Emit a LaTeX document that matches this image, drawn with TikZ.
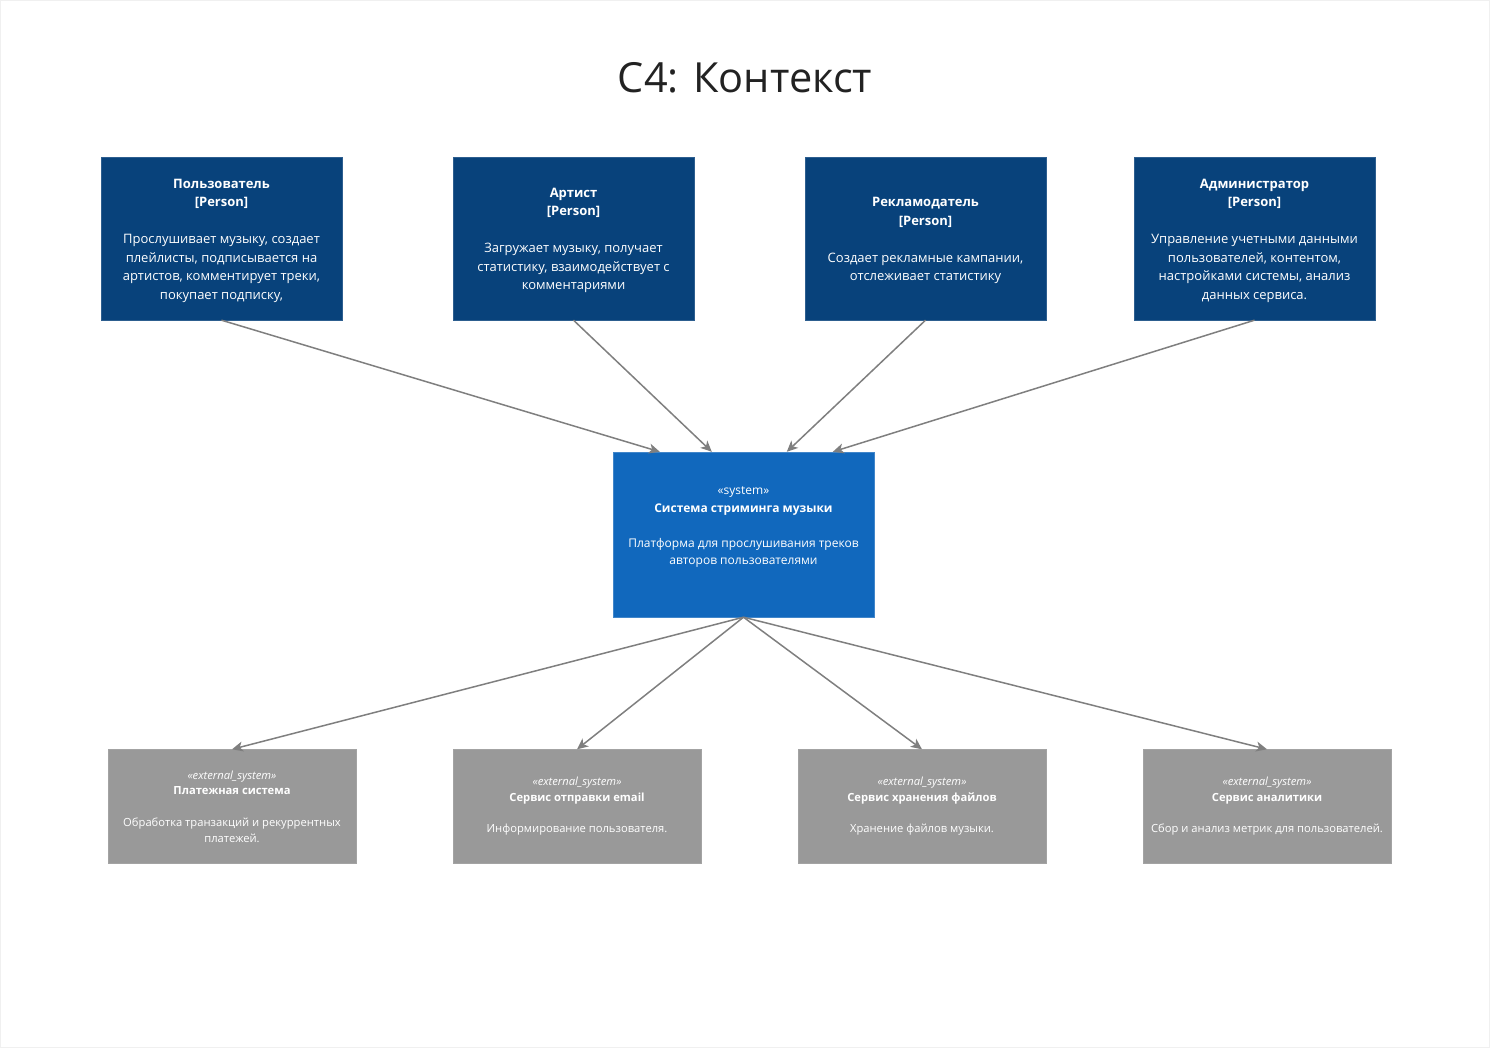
\documentclass[tikz,border=0pt]{standalone}
\usepackage{fontspec}
\setmainfont{Open Sans}
\usetikzlibrary{arrows.meta,calc}
\definecolor{personblue}{HTML}{08427B}
\definecolor{sysblue}{HTML}{1168BD}
\definecolor{extgray}{HTML}{999999}
\definecolor{linegray}{HTML}{7F7F7F}
\definecolor{titlegray}{HTML}{222222}
\tikzset{
  personbox/.style={fill=personblue, draw=personblue!85!white, minimum width=241, minimum height=163, inner sep=0},
  persontext/.style={text=white, align=center, inner sep=0, font=\fontsize{13}{18.5}\selectfont},
  sysbox/.style={fill=sysblue, draw=sysblue!80!white, minimum width=261, minimum height=165, inner sep=0},
  systext/.style={text=white, align=center, inner sep=0,
    font=\fontsize{12}{17.5}\selectfont},
  extbox/.style={fill=extgray, draw=extgray!90!white, text=white,
    minimum width=248, minimum height=114, align=center,
    inner sep=0, font=\fontsize{11.2}{15.7}\selectfont},
  rel/.style={draw=linegray, line width=1.5pt, -{Stealth[length=11pt, width=10pt, inset=3pt]}},
}
\newcommand{\extst}{{\itshape\fontsize{11.2}{15.7}\selectfont «external\_system»}}
\begin{document}
\begin{tikzpicture}[x=1pt, y=-1pt]
\useasboundingbox (0,0) rectangle (1490,1048);
\draw[draw=black!6, line width=1pt] (0.5,0.5) rectangle (1489.5,1047.5);

\node[text=titlegray, font=\fontsize{41.5}{48}\selectfont, inner sep=0] (title) at (745,78) {C4: Контекст};

\node[personbox] (user) at (221.5,238.5) {};
\node[personbox] (artist) at (573.5,238.5) {};
\node[personbox] (adv) at (925.5,238.5) {};
\node[personbox] (admin) at (1254.5,238.5) {};

\node[persontext] (usertxt) at (221.5,240.5) {\textbf{Пользователь}\\\relax\textbf{[Person]}\\~\\Прослушивает музыку, создает\\плейлисты, подписывается на\\артистов, комментирует треки,\\покупает подписку,};
\node[persontext] (artisttxt) at (573.5,240.5) {\textbf{Артист}\\\relax\textbf{[Person]}\\~\\Загружает музыку, получает\\статистику, взаимодействует с\\комментариями};
\node[persontext] (advtxt) at (925.5,240.5) {\textbf{Рекламодатель}\\\relax\textbf{[Person]}\\~\\Создает рекламные кампании,\\отслеживает статистику};
\node[persontext] (admintxt) at (1254.5,240.5) {\textbf{Администратор}\\\relax\textbf{[Person]}\\~\\Управление учетными данными\\пользователей, контентом,\\настройками системы, анализ\\данных сервиса.};

\node[sysbox] (sys) at (743.5,534.5) {};
\node[systext] (systxt) at (743.5,527) {«system»\\\textbf{Система стриминга музыки}\\~\\Платформа для прослушивания треков\\авторов пользователями};

\node[extbox] (pay) at (232,806.5) {\extst\\\textbf{Платежная система}\\~\\Обработка транзакций и рекуррентных\\платежей.};
\node[extbox] (mail) at (577,806.5) {\extst\\\textbf{Сервис отправки email}\\~\\Информирование пользователя.};
\node[extbox] (files) at (922,806.5) {\extst\\\textbf{Сервис хранения файлов}\\~\\Хранение файлов музыки.};
\node[extbox] (stats) at (1267,806.5) {\extst\\\textbf{Сервис аналитики}\\~\\Сбор и анализ метрик для пользователей.};

\coordinate (t1) at ($(sys.north west)+(47,0)$);
\coordinate (t2) at ($(sys.north west)+(99,0)$);
\coordinate (t3) at ($(sys.north west)+(174,0)$);
\coordinate (t4) at ($(sys.north west)+(220,0)$);

\draw[rel] (user.south) -- (t1);
\draw[rel] (artist.south) -- (t2);
\draw[rel] (adv.south) -- (t3);
\draw[rel] (admin.south) -- (t4);

\draw[rel] (sys.south) -- (pay.north);
\draw[rel] (sys.south) -- (mail.north);
\draw[rel] (sys.south) -- (files.north);
\draw[rel] (sys.south) -- (stats.north);
\end{tikzpicture}
\end{document}
